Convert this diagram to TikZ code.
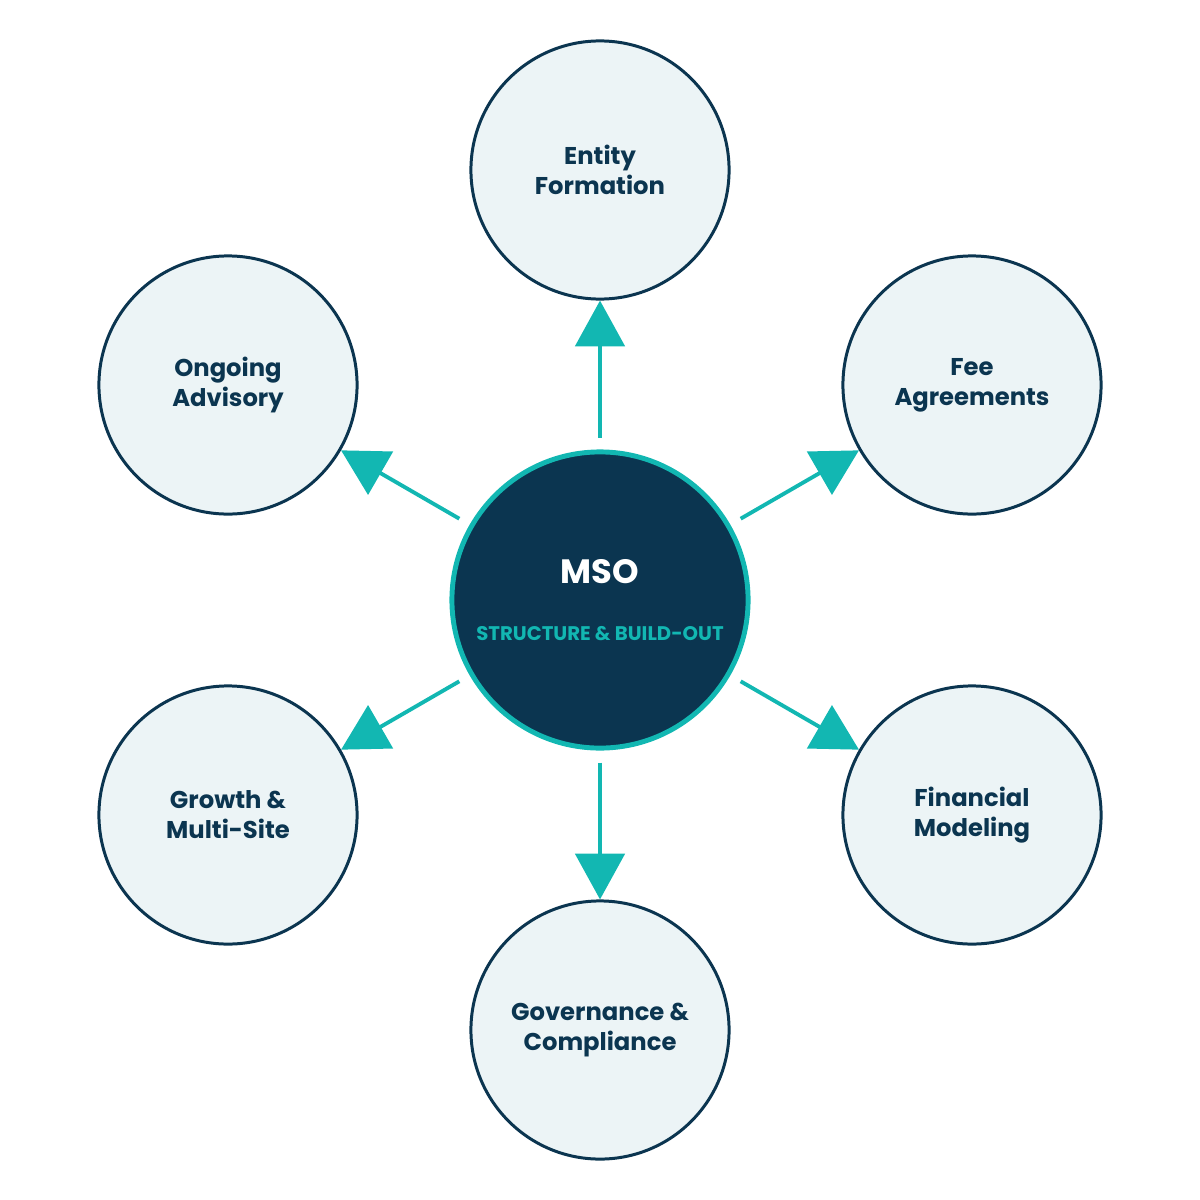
\documentclass[tikz,border=0pt]{standalone}
\usepackage{fontspec}
\setmainfont{Poppins}
\usetikzlibrary{arrows.meta}
\definecolor{navy}{HTML}{0B3550}
\definecolor{teal}{HTML}{12B7B2}
\definecolor{pale}{HTML}{ECF4F6}
\begin{document}
\begin{tikzpicture}
            [x=0.01cm,y=-0.01cm,
             hub/.style={circle,draw=teal,fill=navy,line width=1.4pt,minimum size=2.96cm,inner sep=0pt,align=center},
             place/.style={circle,draw=navy,fill=pale,line width=0.85pt,minimum size=2.58cm,inner sep=0pt,align=center,
                           font=\fontsize{6.9}{8.5}\selectfont\bfseries,text=navy},
             link/.style={draw=teal,line width=1.1pt,-{Triangle[width=14pt,length=13pt]},shorten <=3.4pt}]
            \useasboundingbox (0,0) rectangle (1200,1200);
            \node[hub] (mso) at (600,600){\fontsize{9.6}{11}\selectfont\bfseries\color{white}MSO\\[4pt]
                    \fontsize{5.6}{7}\selectfont\bfseries\color{teal}STRUCTURE \& BUILD-OUT};
            \node[place] (a) at (600,170){Entity\\Formation};
            \node[place] (b) at (972,385){Fee\\Agreements};
            \node[place] (c) at (972,815){Financial\\Modeling};
            \node[place] (d) at (600,1030){Governance \&\\Compliance};
            \node[place] (e) at (228,815){Growth \&\\Multi-Site};
            \node[place] (f) at (228,385){Ongoing\\Advisory};
            \foreach \n in {a,b,c,d,e,f}
                \path[link] (mso) -- (\n);
        \end{tikzpicture}
\end{document}
